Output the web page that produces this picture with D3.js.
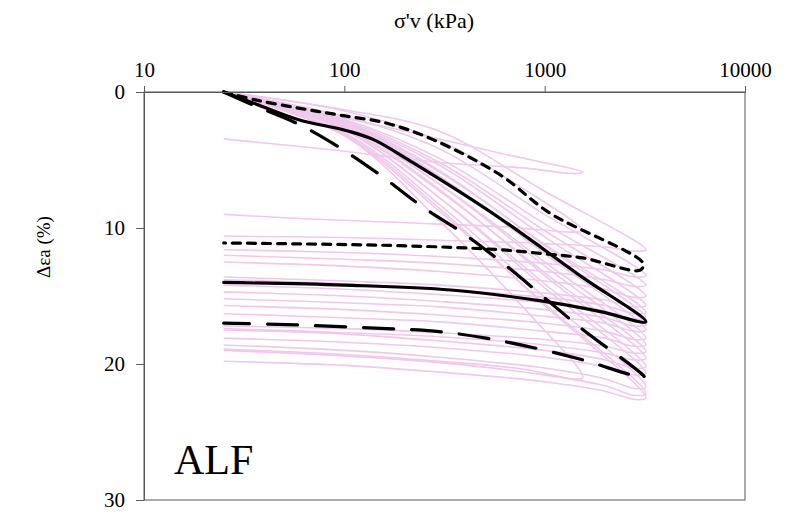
<!DOCTYPE html>
<html>
<head>
<meta charset="utf-8">
<script src="https://cdn.jsdelivr.net/npm/d3@7"></script>
<style>
  html, body { margin: 0; padding: 0; background: #fff; }
  svg { display: block; }
  text { font-family: "Liberation Serif", "Times New Roman", "DejaVu Serif", serif; }
</style>
</head>
<body>
<svg id="chart" width="802" height="512"></svg>
<script>
// ---- data ----
const xTicks = [10, 100, 1000, 10000];
const yTicks = [0, 10, 20, 30];
const xTitle = "σ'v (kPa)";
const yTitle = "Δεa (%)";
const panelLabel = "ALF";

// black reference curves: [stress kPa, strain %]
const blackSolid = [[25,0],[35,0.8],[58,2.0],[103,2.85],[140,3.5],[220,5.2],[600,9.3],[1500,13.5],[3200,16.9],
  [1900,16.15],[1000,15.4],[340,14.56],[100,14.2],[25,14.0]];
const blackShortDash = [[25,0],[36.5,0.6],[60,1.2],[95,1.7],[163,2.3],[277,3.5],[600,6.1],[1060,8.9],[3100,12.6],
  [3000,13.1],[1550,12.2],[1000,11.9],[600,11.6],[190,11.3],[25,11.1]];
const blackLongDash = [[25,0],[35,0.96],[57.8,2.3],[95,4.1],[154,6.2],[243,8.4],[393,10.4],[620,12.6],[1500,17.3],[3150,21.0],
  [2700,20.8],[1550,19.7],[910,18.85],[510,18.1],[290,17.6],[163,17.4],[51.5,17.1],[25,17.0]];

// pink individual test loops
const pinkLoops = [
  [[25,0],[60,1.2],[190,2.8],[600,4.5],[1550,5.9],[1400,6.0],[800,5.6],[310,5.2],[86,4.25],[25,3.45]],
  [[25,0],[100,1.4],[300,3.6],[800,7.2],[1550,10.2],[1400,10.3],[600,9.9],[190,9.6],[60,9.3],[25,9.0]],
  [[25,0],[100,3.2],[300,9.5],[800,16.0],[1550,21.0],[1400,21.1],[800,20.4],[300,19.8],[100,19.3],[25,18.9]],
  [[25,0],[100,1.3],[300,2.9],[1000,7.3],[3200,11.6],[2800,11.7],[2000,11.4],[1000,11.15],[300,10.9],[100,10.7],[25,10.6]],
  [[25,0],[100,1.8],[300,4.2],[1000,9.0],[3200,13.5],[2800,13.6],[2000,13.1],[1000,12.6],[300,12.1],[100,11.8],[25,11.6]],
  [[25,0],[100,2.0],[300,4.9],[1000,9.7],[3200,14.2],[2800,14.3],[2000,13.8],[1000,13.2],[300,12.6],[100,12.3],[25,12.0]],
  [[25,0],[100,2.1],[300,5.2],[1000,10.2],[3200,15.0],[2800,15.1],[2000,14.5],[1000,13.9],[300,13.2],[100,12.8],[25,12.5]],
  [[25,0],[100,2.2],[300,5.4],[1000,10.65],[3200,15.7],[2800,15.8],[2000,15.3],[1000,14.8],[300,14.2],[100,13.9],[25,13.6]],
  [[25,0],[100,2.3],[300,5.9],[1000,11.2],[3200,16.2],[2800,16.3],[2000,15.7],[1000,15.1],[300,14.5],[100,14.1],[25,13.8]],
  [[25,0],[100,2.2],[300,5.8],[1000,11.3],[3200,16.6],[2800,16.7],[2000,16.1],[1000,15.5],[300,14.9],[100,14.5],[25,14.2]],
  [[25,0],[100,2.4],[300,6.3],[1000,11.8],[3200,17.1],[2800,17.2],[2000,16.6],[1000,16.0],[300,15.4],[100,15.0],[25,14.7]],
  [[25,0],[100,2.3],[300,6.2],[1000,11.9],[3200,17.5],[2800,17.6],[2000,17.0],[1000,16.5],[300,15.8],[100,15.5],[25,15.2]],
  [[25,0],[100,2.5],[300,6.8],[1000,12.5],[3200,18.1],[2800,18.2],[2000,17.6],[1000,17.0],[300,16.4],[100,16.0],[25,15.7]],
  [[25,0],[100,2.5],[300,6.8],[1000,12.8],[3200,18.6],[2800,18.7],[2000,18.1],[1000,17.6],[300,16.9],[100,16.6],[25,16.3]],
  [[25,0],[100,2.7],[300,7.3],[1000,13.3],[3200,19.1],[2800,19.2],[2000,18.7],[1000,18.2],[300,17.7],[100,17.4],[25,17.2]],
  [[25,0],[100,2.6],[300,7.2],[1000,13.5],[3200,19.6],[2800,19.7],[2000,19.2],[1000,18.6],[300,18.0],[100,17.7],[25,17.4]],
  [[25,0],[100,2.8],[300,7.8],[1000,14.1],[3200,20.2],[2800,20.3],[2000,19.7],[1000,19.0],[300,18.3],[100,17.8],[25,17.5]],
  [[25,0],[100,2.8],[300,7.8],[1000,14.4],[3200,20.7],[2800,20.8],[2000,20.2],[1000,19.5],[300,18.8],[100,18.4],[25,18.1]],
  [[25,0],[100,3.0],[300,8.3],[1000,15.1],[3200,21.7],[2800,21.8],[2000,21.1],[1000,20.3],[300,19.5],[100,19.0],[25,18.6]],
  [[25,0],[100,3.2],[300,8.8],[1000,15.6],[3200,22.2],[2800,22.3],[2000,21.6],[1000,20.8],[300,19.9],[100,19.4],[25,19.0]],
  [[25,0],[100,3.1],[300,8.6],[1000,15.7],[3200,22.5],[2800,22.6],[2000,22.0],[1000,21.3],[300,20.6],[100,20.1],[25,19.8]]
];

// ---- drawing ----
const svg = d3.select("#chart");
const plotLeft = 144, plotRight = 745, plotTop = 92, plotBottom = 500;
const axisColor = "#595959";
const serif = "'Liberation Serif', 'Times New Roman', 'DejaVu Serif', serif";

const x = d3.scaleLog().domain([10, 10000]).range([plotLeft, plotRight]);
const y = d3.scaleLinear().domain([0, 30]).range([plotTop, plotBottom]);

const line = d3.line()
  .x(d => x(d[0]))
  .y(d => y(d[1]))
  .curve(d3.curveCatmullRom.alpha(0.5));

// plot box
svg.append("rect")
  .attr("x", plotLeft).attr("y", plotTop)
  .attr("width", plotRight - plotLeft).attr("height", plotBottom - plotTop)
  .attr("fill", "none").attr("stroke", axisColor).attr("stroke-width", 1);

// pink loops
svg.append("g").selectAll("path").data(pinkLoops).join("path")
  .attr("d", line)
  .attr("fill", "none")
  .attr("stroke", "#efc8ec")
  .attr("stroke-width", 1.6)
  .attr("stroke-linejoin", "round");

// black curves
const blacks = [
  {pts: blackShortDash, dash: "8,7"},
  {pts: blackLongDash, dash: "30,18"},
  {pts: blackSolid, dash: null}
];
svg.append("g").selectAll("path").data(blacks).join("path")
  .attr("d", d => line(d.pts))
  .attr("fill", "none")
  .attr("stroke", "#000")
  .attr("stroke-width", 3.2)
  .attr("stroke-linecap", "round")
  .attr("stroke-linejoin", "round")
  .attr("stroke-dasharray", d => d.dash);

// axes
const xAxis = d3.axisTop(x).tickValues(xTicks).tickFormat(d3.format("d"))
  .tickSize(6).tickSizeOuter(0).tickPadding(9);
const gx = svg.append("g").attr("transform", `translate(0,${plotTop})`).call(xAxis);

const yAxis = d3.axisLeft(y).tickValues(yTicks).tickFormat(d3.format("d"))
  .tickSize(8).tickSizeOuter(0).tickPadding(11);
const gy = svg.append("g").attr("transform", `translate(${plotLeft},0)`).call(yAxis);

[gx, gy].forEach(g => {
  g.attr("font-family", serif);
  g.select(".domain").attr("stroke", axisColor);
  g.selectAll(".tick line").attr("stroke", axisColor);
  g.selectAll(".tick text")
    .attr("fill", "#000")
    .style("font-family", serif)
    .style("font-size", "21px");
});

// titles
svg.append("text")
  .attr("x", 434).attr("y", 28)
  .attr("text-anchor", "middle")
  .style("font-family", serif)
  .style("font-size", "22px")
  .text(xTitle);

svg.append("text")
  .attr("transform", "translate(50,247) rotate(-90)")
  .attr("text-anchor", "middle")
  .style("font-family", serif)
  .style("font-size", "19px")
  .text(yTitle);

svg.append("text")
  .attr("x", 174).attr("y", 474)
  .style("font-family", serif)
  .style("font-size", "42px")
  .text(panelLabel);
</script>
</body>
</html>
